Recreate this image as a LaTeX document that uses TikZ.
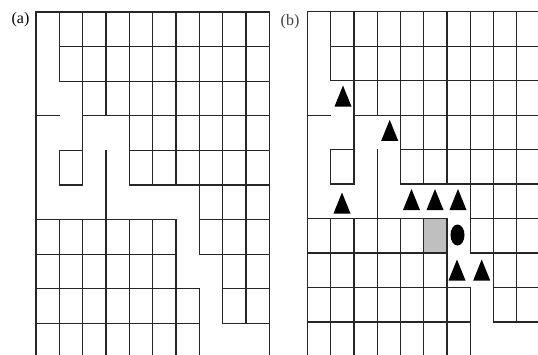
\documentclass[tikz,border=0pt]{standalone}
\usepackage{fontspec}
\setmainfont{Liberation Serif}
\usetikzlibrary{shapes.geometric}
\tikzset{
  wall/.style={line width=1.3pt, draw=black!85, line cap=rect},
  robot/.pic={\fill[black] (-8.5,10.5) -- (0,-10.5) -- (8.5,10.5) -- cycle;},
  goal/.style={fill=black, ellipse, minimum width=14pt, minimum height=21pt, inner sep=0pt},
  panellabel/.style={font=\fontsize{16}{18}\selectfont, inner sep=0pt}
}
\newcommand{\mazewalls}{%
  \draw[wall] (0,0)--(10,0) (1,1)--(10,1) (1,2)--(10,2)
    (0,3)--(1,3) (2,3)--(10,3)
    (1,4)--(2,4) (4,4)--(10,4)
    (1,5)--(2,5) (4,5)--(10,5)
    (0,6)--(6,6) (7,6)--(10,6)
    (0,7)--(6,7) (7,7)--(10,7)
    (0,8)--(7,8) (8,8)--(10,8)
    (0,9)--(7,9) (8,9)--(10,9);
  \draw[wall] (0,0)--(0,10.5)
    (1,0)--(1,2) (1,4)--(1,5) (1,6)--(1,10.5)
    (2,0)--(2,5) (2,6)--(2,10.5)
    (3,0)--(3,3) (3,4)--(3,10.5)
    (4,0)--(4,5) (4,6)--(4,10.5)
    (5,0)--(5,5) (5,6)--(5,10.5)
    (6,0)--(6,5) (6,6)--(6,10.5)
    (7,0)--(7,7) (7,8)--(7,10.5)
    (8,0)--(8,9)
    (9,0)--(9,9)
    (10,0)--(10,10.5);
}
\begin{document}
\begin{tikzpicture}[x=1pt,y=-1pt]
  \useasboundingbox (0,0) rectangle (538,354);
  \clip (0,0) rectangle (538,354);
  \fill[white] (0,0) rectangle (538,354);

  % panel (a)
  \node[panellabel] (la) at (20.5,20) {(a)};
  \begin{scope}[shift={(36pt,-12pt)}, x=23.33pt, y=-34.6pt]
    \mazewalls
  \end{scope}

  % panel (b)
  \node[panellabel, text=black!75] (lb) at (290,21.5) {(b)};
  \begin{scope}[shift={(307.5pt,-11.8pt)}, x=23.25pt, y=-34.45pt]
    \fill[gray!50] (5,6) rectangle (6,7);
    \mazewalls
  \end{scope}

  % robots and goal
  \pic (r1) at (343,96) {robot};
  \pic (r2) at (389.7,130.3) {robot};
  \pic (r3) at (342,203) {robot};
  \pic (r4) at (411.5,199.5) {robot};
  \pic (r5) at (435,199.5) {robot};
  \pic (r6) at (458,199.5) {robot};
  \pic (r7) at (457,270) {robot};
  \pic (r8) at (481.7,270) {robot};
  \node[goal] (g) at (457.5,235) {};
\end{tikzpicture}
\end{document}
